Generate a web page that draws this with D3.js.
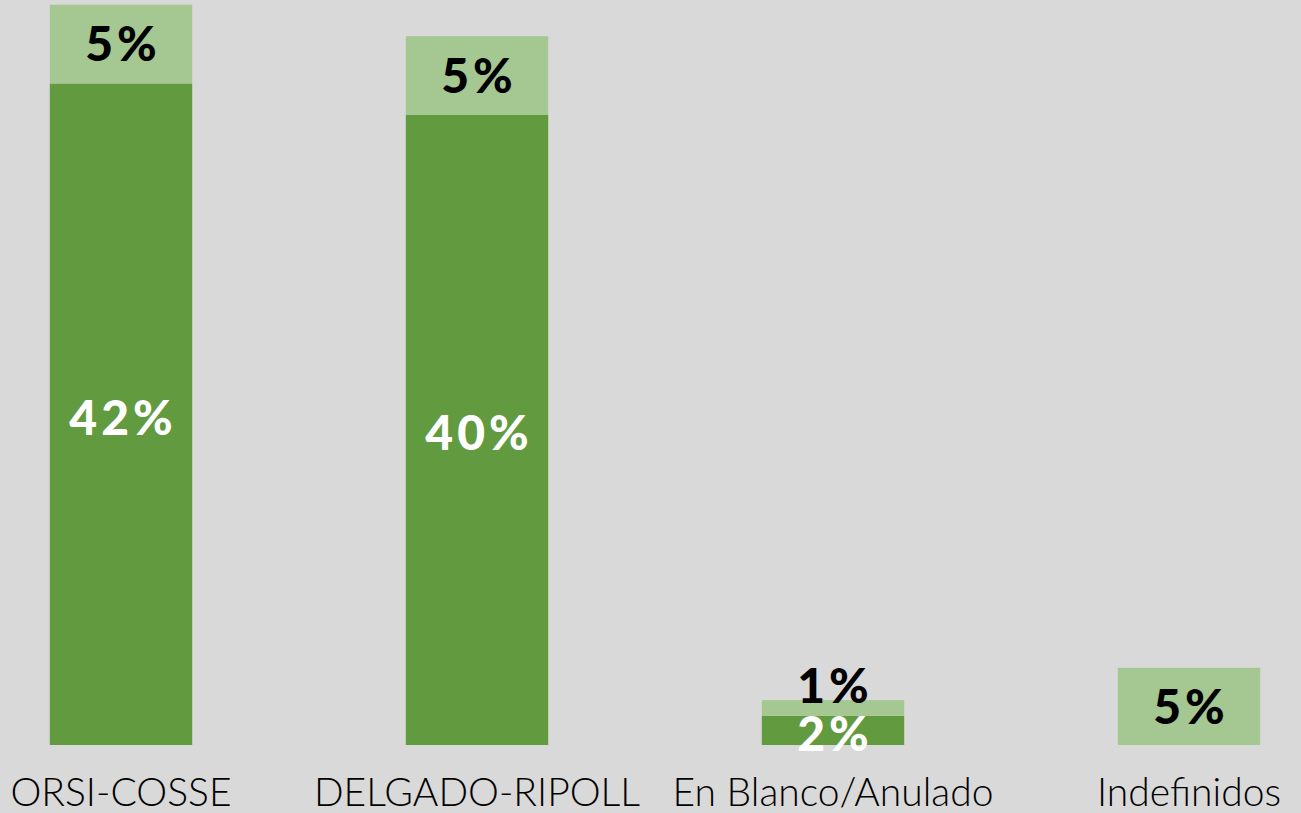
<!DOCTYPE html>
<html>
<head>
<meta charset="utf-8">
<script src="https://cdn.jsdelivr.net/npm/d3@7"></script>
<style>
  html, body { margin: 0; padding: 0; background: #d9d9d9; overflow: hidden; }
</style>
</head>
<body>
<script>
// categories and the two stacked series (percent)
var categories = ["ORSI-COSSE", "DELGADO-RIPOLL", "En Blanco/Anulado", "Indefinidos"];
var firmes = [42, 40, 1.85, 0];      // dark green, bottom segment
var posibles = [5, 5, 1, 4.9];       // light green, top segment
var firmesLabels = ["42%", "40%", "2%", ""];
var posiblesLabels = ["5%", "5%", "1%", "5%"];

var width = 1301;
var height = 813;
var darkGreen = "#629a3f";
var lightGreen = "#a5c791";

var svg = d3.select("body")
			.append("svg")
			.attr("width", width)
			.attr("height", height);

svg.append("rect")
	.attr("width", width)
	.attr("height", height)
	.attr("fill", "#d9d9d9");

var x = d3.scaleBand()
		.domain(categories)
		.range([-57, 1367])
		.paddingInner(0.6)
		.paddingOuter(0.3);

var y = d3.scaleLinear()
		.domain([0, 47.3])
		.range([745, 0]);

var rows = categories.map(function(c, i){
	return {cat: c, firmes: firmes[i], posibles: posibles[i], fl: firmesLabels[i], pl: posiblesLabels[i]};
});

var stack = d3.stack().keys(["firmes", "posibles"]);
var series = stack(rows);
var colors = {firmes: darkGreen, posibles: lightGreen};

svg.selectAll("g.serie")
	.data(series)
	.enter()
		.append("g")
		.attr("class", "serie")
		.attr("fill", function(s){return colors[s.key]})
		.selectAll("rect")
		.data(function(s){return s})
		.enter()
			.append("rect")
			.attr("x", function(d){return x(d.data.cat)})
			.attr("width", x.bandwidth())
			.attr("y", function(d){return y(d[1])})
			.attr("height", function(d){return y(d[0]) - y(d[1])});

var labelFont = "Lato, 'DejaVu Sans', sans-serif";

// dark segment labels (white)
var darkY = series[0].map(function(d){return (y(d[0]) + y(d[1])) / 2 + 3});

svg.selectAll("text.firmes")
	.data(series[0])
	.enter()
		.append("text")
		.attr("class", "firmes")
		.attr("x", function(d){return x(d.data.cat) + x.bandwidth()/2 + 2})
		.attr("y", function(d, i){return darkY[i]})
		.attr("dy", ".36em")
		.attr("text-anchor", "middle")
		.attr("fill", "white")
		.attr("font-family", labelFont)
		.attr("font-weight", 900)
		.attr("font-size", "48px")
		.attr("letter-spacing", "4px")
		.text(function(d){return d.data.fl});

// light segment labels (black), pushed up if they would collide
svg.selectAll("text.posibles")
	.data(series[1])
	.enter()
		.append("text")
		.attr("class", "posibles")
		.attr("x", function(d){return x(d.data.cat) + x.bandwidth()/2 + 2})
		.attr("y", function(d, i){
			var c = (y(d[0]) + y(d[1])) / 2;
			if (d.data.fl != "") c = Math.min(c, darkY[i] - 48);
			return c;
		})
		.attr("dy", ".36em")
		.attr("text-anchor", "middle")
		.attr("fill", "black")
		.attr("font-family", labelFont)
		.attr("font-weight", 900)
		.attr("font-size", "48px")
		.attr("letter-spacing", "4px")
		.text(function(d){return d.data.pl});

var xAxis = d3.axisBottom(x).tickSize(0).tickPadding(0);

var axisG = svg.append("g")
	.attr("transform", "translate(0,806)")
	.call(xAxis);

axisG.select(".domain").remove();
axisG.selectAll("text")
	.attr("dy", 0)
	.attr("y", 0)
	.attr("fill", "black")
	.attr("font-family", labelFont)
	.attr("font-weight", 300)
	.attr("font-size", "39px");
</script>
</body>
</html>
